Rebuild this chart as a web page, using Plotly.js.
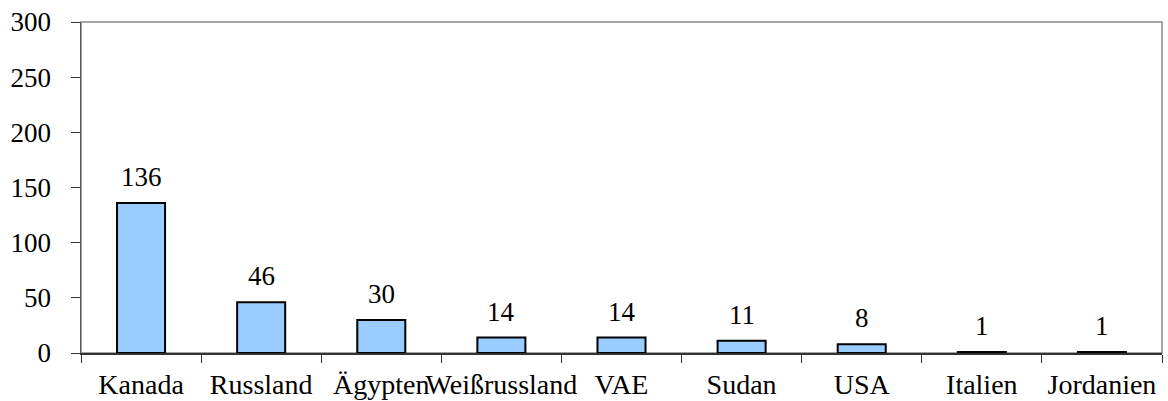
<!DOCTYPE html>
<html><head><meta charset="utf-8">
<script src="https://cdn.plot.ly/plotly-3.0.1.min.js"></script>
<style>body{margin:0;background:#fff}#c{width:1168px;height:401px}</style>
</head><body><div id="c"></div>
<script>
const categories = ["Kanada","Russland","Ägypten","Weißrussland","VAE","Sudan","USA","Italien","Jordanien"];
const values = [136,46,30,14,14,11,8,1,1];
const yTicks = [0,50,100,150,200,250,300];

const font = {family:"Liberation Serif", size:28, color:"#000"};
const numFont = {family:"Liberation Serif", size:27, color:"#000"};
const trace = {
  type:"bar", x:categories, y:values,
  marker:{color:"#99CCFF", line:{color:"#000", width:2}},
  width:0.4, hoverinfo:"none"
};
const annotations = categories.map((c,i)=>({
  x:c, y:values[i], xref:"x", yref:"y", text:String(values[i]),
  showarrow:false, yanchor:"bottom", yshift:9, font:numFont
}));
const layout = {
  width:1168, height:401,
  margin:{l:81, r:6, t:22, b:48},
  paper_bgcolor:"#fff", plot_bgcolor:"#fff",
  font:font, showlegend:false, bargap:0.6,
  xaxis:{type:"category", tickson:"boundaries", ticks:"outside", ticklen:8, tickcolor:"#333",
    showline:true, linecolor:"#333", linewidth:1.5, showgrid:false, zeroline:false,
    tickangle:0, tickfont:font, ticklabelstandoff:6, fixedrange:true},
  yaxis:{range:[0,300], tickvals:yTicks, ticks:"outside", ticklen:9, tickcolor:"#333",
    showline:true, linecolor:"#555", linewidth:1.5, showgrid:false, zeroline:false,
    tickfont:numFont, ticklabelstandoff:14, fixedrange:true},
  shapes:[{type:"rect", xref:"paper", yref:"paper", x0:0, x1:1, y0:0, y1:1,
    line:{color:"#888", width:1.5}, layer:"below"}],
  annotations:annotations
};
Plotly.newPlot("c",[trace],layout,{displayModeBar:false,staticPlot:true});
</script></body></html>
